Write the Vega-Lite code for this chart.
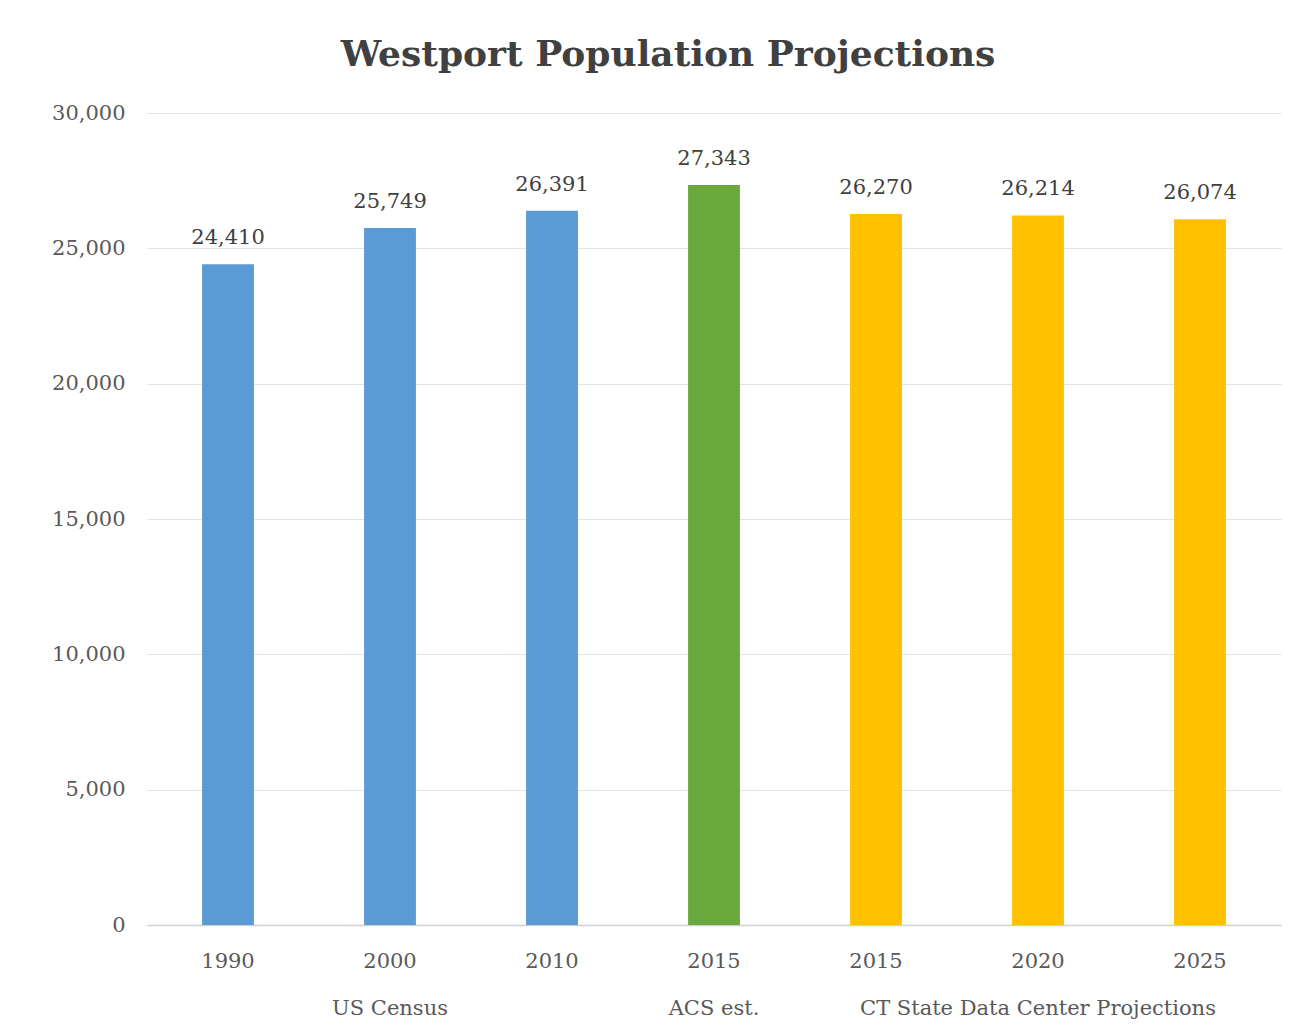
{
  "$schema": "https://vega.github.io/schema/vega-lite/v6.json",
  "background": "white",
  "padding": {"top": 37, "left": 5, "right": 5, "bottom": 5},
  "title": {
    "text": "Westport Population Projections",
    "font": "DejaVu Serif",
    "fontSize": 36,
    "fontWeight": "bold",
    "color": "#404040",
    "anchor": "middle",
    "offset": 28,
    "dx": 25
  },
  "data": {
    "values": [
      {"key": "1990", "group": "US Census", "population": 24410},
      {"key": "2000", "group": "US Census", "population": 25749},
      {"key": "2010", "group": "US Census", "population": 26391},
      {"key": "2015a", "group": "ACS est.", "population": 27343},
      {"key": "2015b", "group": "CT State Data Center Projections", "population": 26270},
      {"key": "2020", "group": "CT State Data Center Projections", "population": 26214},
      {"key": "2025", "group": "CT State Data Center Projections", "population": 26074}
    ]
  },
  "facet": {
    "column": {
      "field": "group",
      "type": "nominal",
      "title": null,
      "sort": ["US Census", "ACS est.", "CT State Data Center Projections"],
      "header": {
        "labelOrient": "bottom",
        "labelFont": "DejaVu Serif",
        "labelFontSize": 21,
        "labelColor": "#595959",
        "labelPadding": 27
      }
    }
  },
  "spacing": 0,
  "spec": {
    "width": {"step": 162},
    "height": 812,
    "encoding": {
      "x": {
        "field": "key",
        "type": "nominal",
        "sort": null,
        "scale": {"paddingInner": 0.68, "paddingOuter": 0.34},
        "axis": {
          "title": null,
          "labelExpr": "substring(datum.label, 0, 4)",
          "labelAngle": 0,
          "labelFont": "DejaVu Serif",
          "labelFontSize": 21,
          "labelColor": "#595959",
          "labelPadding": 25,
          "ticks": false,
          "domainColor": "#d0d0d0",
          "domainWidth": 1.5
        }
      },
      "y": {
        "field": "population",
        "type": "quantitative",
        "scale": {"domain": [0, 30000]},
        "axis": {
          "title": null,
          "values": [0, 5000, 10000, 15000, 20000, 25000, 30000],
          "format": ",.0f",
          "labelFont": "DejaVu Serif",
          "labelFontSize": 21,
          "labelColor": "#595959",
          "labelPadding": 22,
          "ticks": false,
          "domain": false,
          "gridColor": "#e3e3e3",
          "gridWidth": 1,
          "minExtent": 142,
          "maxExtent": 142
        }
      }
    },
    "layer": [
      {
        "mark": {"type": "bar"},
        "encoding": {
          "color": {
            "field": "group",
            "type": "nominal",
            "legend": null,
            "scale": {
              "domain": ["US Census", "ACS est.", "CT State Data Center Projections"],
              "range": ["#5B9BD5", "#6AA83E", "#FFC000"]
            }
          }
        }
      },
      {
        "mark": {
          "type": "text",
          "dy": -16,
          "baseline": "bottom",
          "font": "DejaVu Serif",
          "fontSize": 21,
          "color": "#404040"
        },
        "encoding": {
          "text": {"field": "population", "type": "quantitative", "format": ","}
        }
      }
    ]
  },
  "resolve": {"scale": {"x": "independent"}},
  "config": {
    "view": {"stroke": null}
  }
}
